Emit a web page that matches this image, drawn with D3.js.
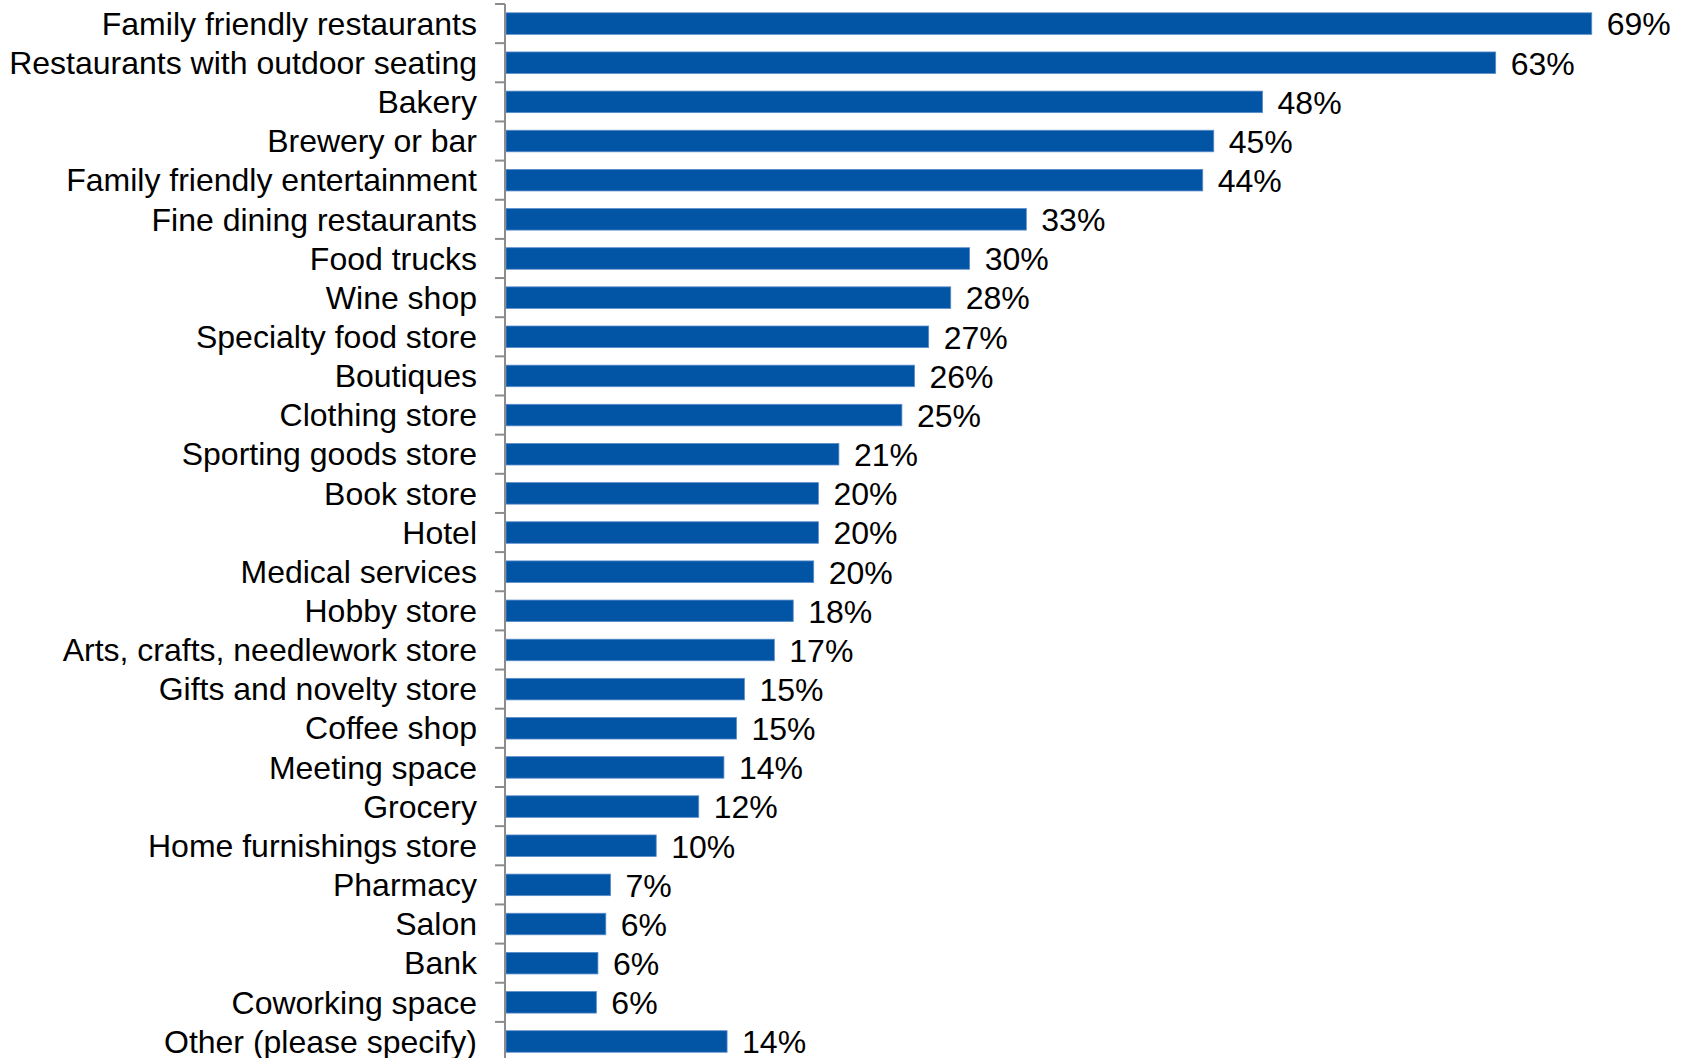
<!DOCTYPE html>
<html>
<head>
<meta charset="utf-8">
<script src="https://cdn.jsdelivr.net/npm/d3@7"></script>
<style>
  html, body { margin: 0; padding: 0; background: #ffffff; overflow: hidden; }
  svg { display: block; }
  text { font-family: "Liberation Sans", Arial, sans-serif; fill: #000; }
</style>
</head>
<body>
<svg id="chart" width="1683" height="1058"></svg>
<script>
// Amenities people would like to see (share of respondents, %)
const categories = [
  "Family friendly restaurants",
  "Restaurants with outdoor seating",
  "Bakery",
  "Brewery or bar",
  "Family friendly entertainment",
  "Fine dining restaurants",
  "Food trucks",
  "Wine shop",
  "Specialty food store",
  "Boutiques",
  "Clothing store",
  "Sporting goods store",
  "Book store",
  "Hotel",
  "Medical services",
  "Hobby store",
  "Arts, crafts, needlework store",
  "Gifts and novelty store",
  "Coffee shop",
  "Meeting space",
  "Grocery",
  "Home furnishings store",
  "Pharmacy",
  "Salon",
  "Bank",
  "Coworking space",
  "Other (please specify)"
];

const values = [
  69.0, 62.9, 48.1, 45.0, 44.3, 33.1, 29.5, 28.3, 26.9, 26.0, 25.2, 21.2, 19.9,
  19.9, 19.6, 18.3, 17.1, 15.2, 14.7, 13.9, 12.3, 9.6, 6.7, 6.4, 5.9, 5.8, 14.1
];

const data = categories.map((c, i) => ({ category: c, value: values[i] }));

const svg = d3.select("#chart");

const plot = { left: 505, top: 4, bandStep: 39.15 };
const plotBottom = plot.top + categories.length * plot.bandStep;
const fontSize = 32;

const x = d3.scaleLinear().domain([0, 100]).range([plot.left, plot.left + 1575]);
const y = d3.scaleBand()
  .domain(categories)
  .range([plot.top, plotBottom])
  .paddingInner(0.45)
  .paddingOuter(0.225);

// Category boundaries for the tick marks
const yBand = d3.scaleBand().domain(categories).range([plot.top, plotBottom]);
const pct = d3.format(".0f");

// Bars
svg.append("g")
  .selectAll("rect")
  .data(data)
  .join("rect")
  .attr("x", x(0) + 1)
  .attr("y", d => y(d.category))
  .attr("width", d => x(d.value) - x(0) - 1)
  .attr("height", y.bandwidth())
  .attr("fill", "#0254a5")
  .attr("stroke", "#5b8ccb")
  .attr("stroke-width", 0.8);

// Category axis: vertical line with ticks between categories
const axis = svg.append("g").attr("stroke", "#8c8c8c").attr("stroke-width", 2);
axis.append("line")
  .attr("x1", x(0)).attr("x2", x(0))
  .attr("y1", plot.top).attr("y2", plotBottom);
axis.selectAll("line.tick")
  .data(categories.concat(["__end"]))
  .join("line")
  .attr("class", "tick")
  .attr("x1", x(0) - 10).attr("x2", x(0))
  .attr("y1", d => d === "__end" ? plotBottom : yBand(d))
  .attr("y2", d => d === "__end" ? plotBottom : yBand(d));

// Category labels
svg.append("g")
  .selectAll("text")
  .data(data)
  .join("text")
  .attr("x", 477)
  .attr("y", d => yBand(d.category) + yBand.bandwidth() / 2)
  .attr("dy", "0.35em")
  .attr("text-anchor", "end")
  .attr("font-size", fontSize)
  .text(d => d.category);

// Value labels
svg.append("g")
  .selectAll("text")
  .data(data)
  .join("text")
  .attr("x", d => x(d.value) + 15)
  .attr("y", d => yBand(d.category) + yBand.bandwidth() / 2)
  .attr("dy", "0.37em")
  .attr("font-size", fontSize)
  .text(d => pct(d.value) + "%");
</script>
</body>
</html>
